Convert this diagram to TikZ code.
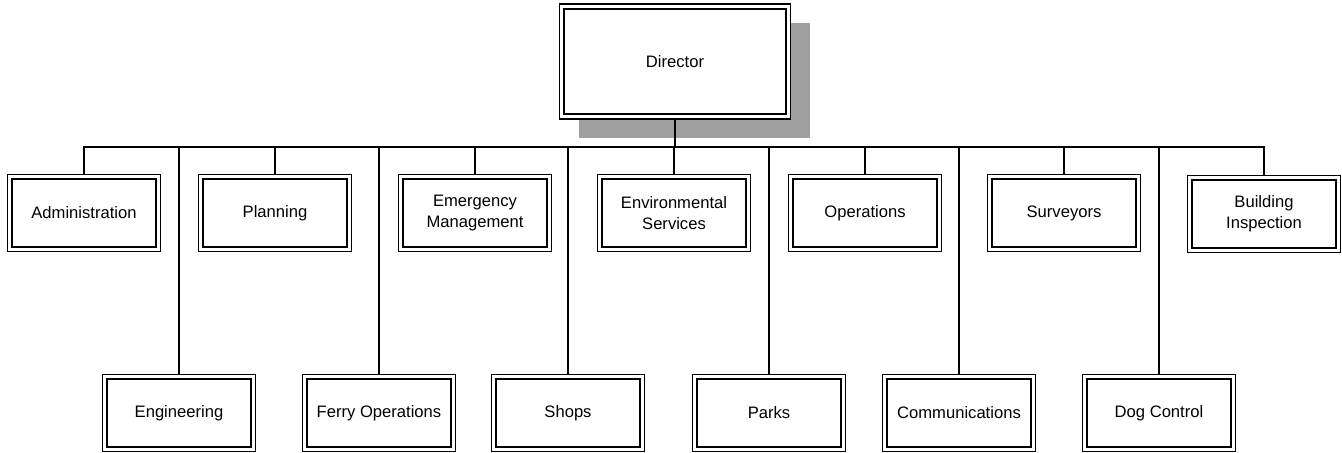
\documentclass[tikz,border=0pt]{standalone}
\usepackage{fontspec}
\setmainfont{Liberation Sans}
\usepackage{tikz}
\usetikzlibrary{positioning, shadows}

\begin{document}
\begin{tikzpicture}[x=0.5pt, y=-0.5pt,
  every node/.style={font=\fontsize{8.3}{10.5}\selectfont, align=center},
  unitbox/.style={draw, line width=0.6pt, fill=white, minimum width=76.5pt, minimum height=38.5pt, inner sep=0pt,
    path picture={\draw[line width=1.1pt] ([shift={(2.4pt,2.4pt)}]path picture bounding box.south west) rectangle ([shift={(-2.4pt,-2.4pt)}]path picture bounding box.north east);}},
  chiefbox/.style={unitbox, minimum width=115.5pt, minimum height=57.5pt,
    drop shadow={shadow xshift=9.5pt, shadow yshift=-9.5pt, fill=gray!75, opacity=1}},
  link/.style={line width=0.7pt}]
\useasboundingbox (0,0) rectangle (1342,452);

\node (dir) at (675,61.5) [chiefbox] {Director};
\coordinate (bus) at (675,147);

% top row
\node (admin) at (84,213) [unitbox] {Administration};
\node (plan) at (275,213) [unitbox] {Planning};
\node (emerg) at (475,213) [unitbox] {Emergency\\Management};
\node (envir) at (674,213) [unitbox] {Environmental\\Services};
\node (oper) at (865,213) [unitbox] {Operations};
\node (surv) at (1064,213) [unitbox] {Surveyors};
\node (build) at (1264,214) [unitbox] {Building\\Inspection};

% bottom row
\node (eng) at (179,413) [unitbox] {Engineering};
\node (ferry) at (379,413) [unitbox] {Ferry Operations};
\node (shops) at (568,413) [unitbox] {Shops};
\node (parks) at (769,413) [unitbox] {Parks};
\node (comm) at (959,413) [unitbox] {Communications};
\node (dog) at (1159,413) [unitbox] {Dog Control};

\draw[link] (dir.south) -- (bus);
\foreach \n in {admin,plan,emerg,envir,oper,surv,build,eng,ferry,shops,parks,comm,dog}
  \draw[link] (\n.north) |- (bus);
\end{tikzpicture}
\end{document}
